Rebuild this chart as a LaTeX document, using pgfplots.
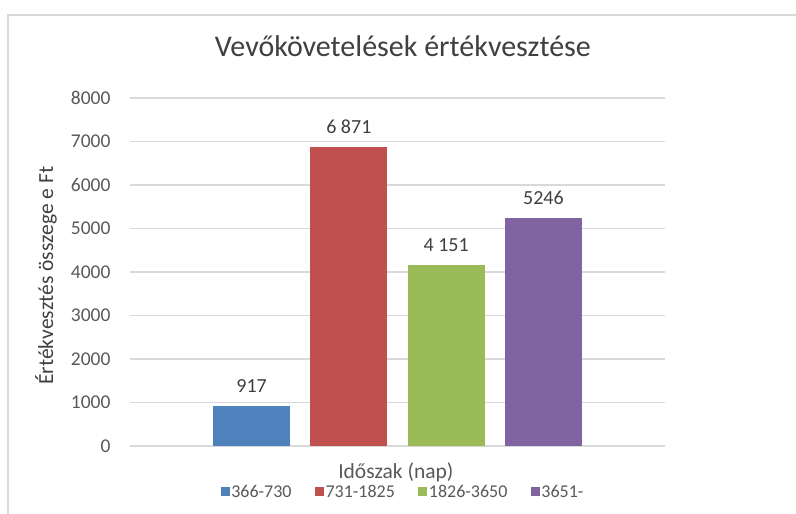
\documentclass[border=0pt]{standalone}
\usepackage{pgfplots}
\pgfplotsset{compat=1.18}
\usepackage{fontspec}
\setmainfont{Carlito}
\definecolor{serA}{RGB}{79,129,189}
\definecolor{serB}{RGB}{192,80,77}
\definecolor{serC}{RGB}{155,187,89}
\definecolor{serD}{RGB}{128,100,162}
\definecolor{gridgray}{RGB}{217,217,217}
\definecolor{txtgray}{RGB}{89,89,89}
\definecolor{lblgray}{RGB}{64,64,64}
\begin{document}
\begin{tikzpicture}[x=1pt,y=1pt]
\useasboundingbox (0,0) rectangle (796,-514);
% chart frame
\draw[gridgray, line width=2pt] (7.5,-514) -- (7.5,-15) -- (796,-15);
\begin{axis}[
    scale only axis,
    width=535pt, height=348pt,
    at={(130pt,-446pt)}, anchor=south west,
    xmin=-0.25, xmax=5.25,
    ymin=0, ymax=8000,
    ytick={0,1000,...,8000},
    xtick=\empty,
    ymajorgrids,
    grid style={gridgray, line width=1.2pt},
    axis line style={draw=none},
    major tick length=0pt,
    /pgf/number format/.cd, 1000 sep={}, assume math mode=true,
    /pgfplots/.cd,
    tick label style={font=\fontsize{19.5}{22}\selectfont, text=txtgray},
    yticklabel style={anchor=east, xshift=-16pt},
    title={Vevőkövetelések értékvesztése},
    title style={at={(axis description cs:0.51,1.132)}, anchor=center,
        font=\fontsize{30}{34}\selectfont, text=lblgray},
    xlabel={Időszak (nap)},
    xlabel style={at={(axis description cs:0.497,-0.075)}, anchor=center,
        font=\fontsize{21.5}{24}\selectfont, text=txtgray},
    ylabel={Értékvesztés összege e Ft},
    ylabel style={at={(axis description cs:-0.157,0.489)}, anchor=center, rotate=0,
        font=\fontsize{21.5}{24}\selectfont, text=lblgray},
    ybar, bar width=0.79, bar shift=0pt,
    every node near coord/.append style={anchor=south, yshift=10pt,
        font=\fontsize{20}{22}\selectfont, text=lblgray},
    legend columns=4,
    legend style={at={(0.51,-0.132)}, anchor=center, draw=none, fill=none,
        font=\fontsize{18}{20}\selectfont, text=txtgray,
        /tikz/every even column/.append style={column sep=22pt},
        nodes={inner sep=1.5pt}},
    legend image code/.code={\fill[#1] (0pt,-4.5pt) rectangle (9pt,4.5pt);},
]
\addplot[fill=serA, draw=none, nodes near coords={917}] coordinates {(1,917)};
\addplot[fill=serB, draw=none, nodes near coords={6 871}] coordinates {(2,6871)};
\addplot[fill=serC, draw=none, nodes near coords={4 151}] coordinates {(3,4151)};
\addplot[fill=serD, draw=none, nodes near coords={5246}] coordinates {(4,5246)};
\legend{366-730,731-1825,1826-3650,3651-}
\end{axis}
\end{tikzpicture}
\end{document}
